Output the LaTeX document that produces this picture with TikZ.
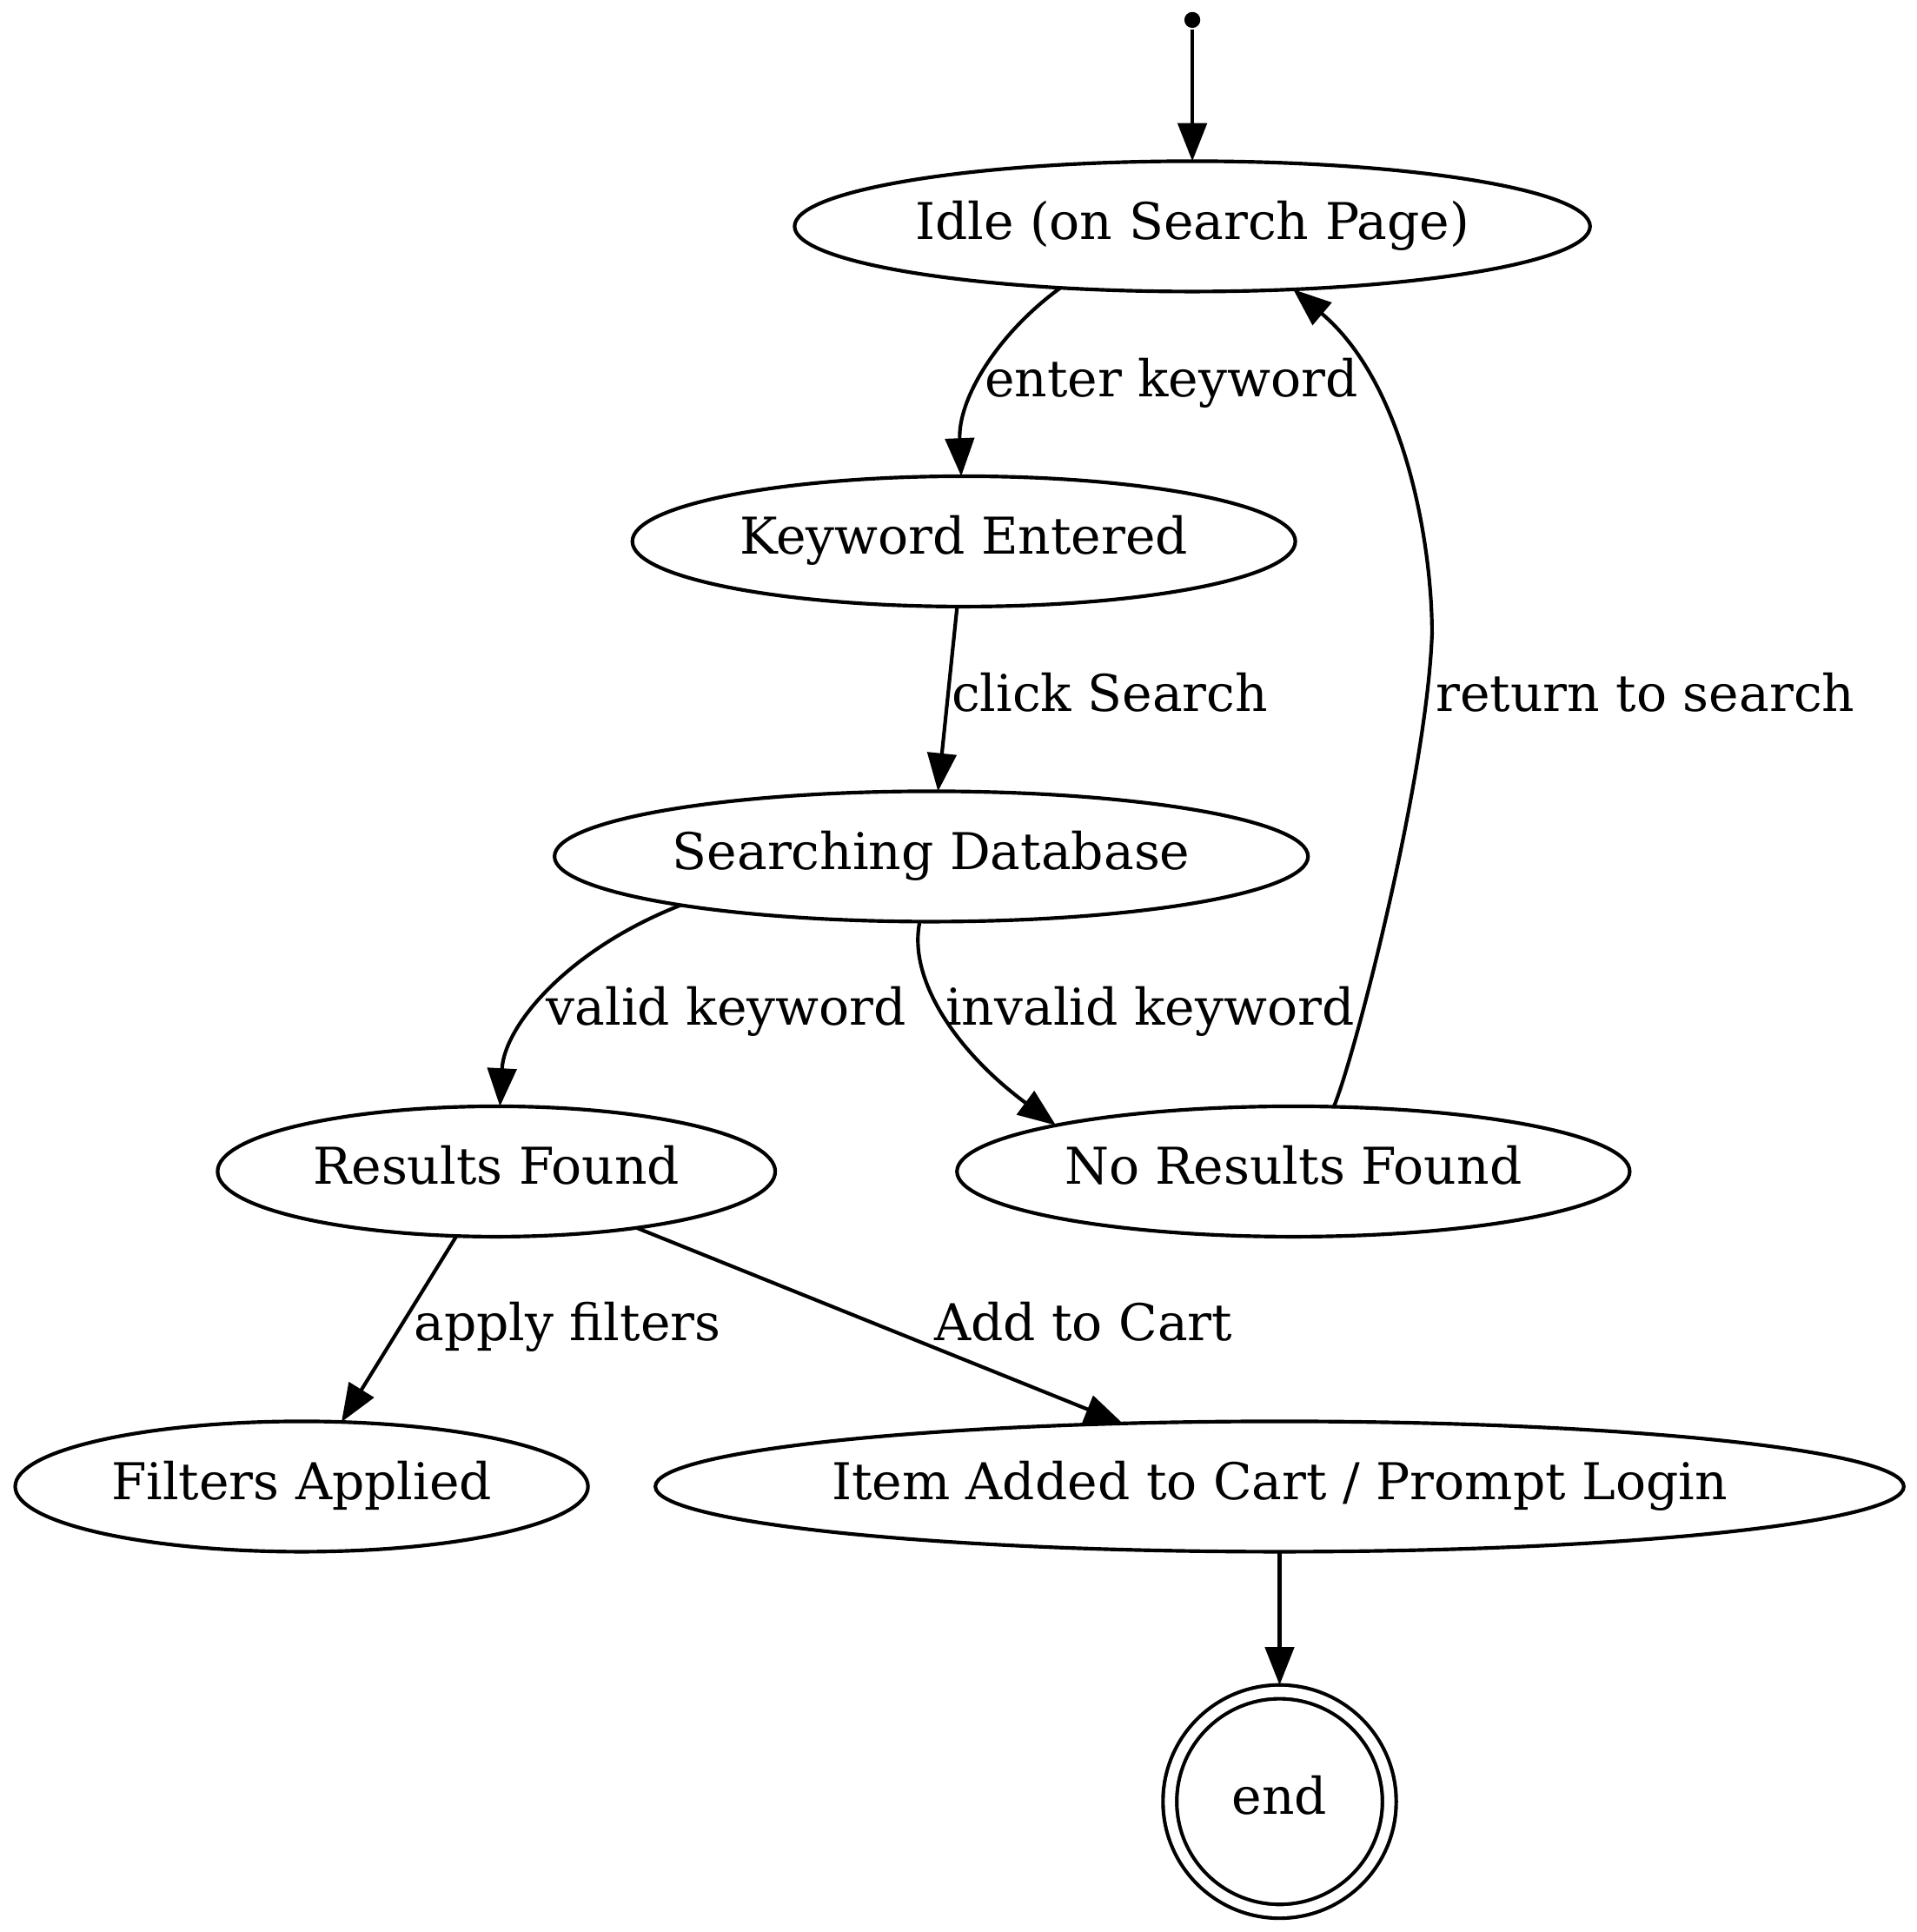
\documentclass[tikz,border=0pt]{standalone}
\usepackage{fontspec}
\setmainfont{DejaVu Serif}
\usetikzlibrary{shapes.geometric,arrows.meta}

\begin{document}
\begin{tikzpicture}[x=1pt,y=-1pt,line width=1pt,
  >={Triangle[length=10.5pt,width=8pt]},
  state/.style={draw,ellipse,inner sep=0pt,outer sep=0pt,minimum height=36pt,
    font=\fontsize{14}{17}\selectfont,text height=10.5pt,text depth=3.3pt},
  lbl/.style={inner sep=0pt,font=\fontsize{14}{17}\selectfont,text height=10.5pt,text depth=3.3pt}]
  \useasboundingbox (0,0) rectangle (529.44,533.52);
  % states
  \node [circle,fill,inner sep=0pt,minimum size=4.4pt] (init) at (329.3,5.5) {};
  \node [state,minimum width=219.7pt] (idle) at (329.3,62.5) {Idle (on Search Page)};
  \node [state,minimum width=183.1pt] (kw) at (266.2,149.5) {Keyword Entered};
  \node [state,minimum width=208.1pt] (search) at (257.2,236.5) {Searching Database};
  \node [state,minimum width=154pt] (found) at (137.1,323.5) {Results Found};
  \node [state,minimum width=185.8pt] (nores) at (357.2,323.5) {No Results Found};
  \node [state,minimum width=158.2pt] (filters) at (83.3,410.5) {Filters Applied};
  \node [state,minimum width=344.8pt,inner xsep=-3pt] (item) at (353.4,410.5) {Item Added to Cart / Prompt Login};
  \node [circle,draw,double,double distance=2.8pt,minimum size=60.6pt,inner sep=0pt,outer sep=1.9pt,
    font=\fontsize{14}{17}\selectfont,text height=10.5pt,text depth=3.3pt] (end) at (353.4,497.5) {end};
  % transitions
  \draw [->] (init) -- (idle);
  \draw [->] (idle.205) .. controls (275.6,92) and (264.6,110) .. (kw);
  \draw [->] (kw) -- (search);
  \draw [->] (search.191) .. controls (157.2,262) and (139.3,283) .. (found);
  \draw [->] (search.260) .. controls (250.7,270) and (263.6,290) .. (nores.169);
  \draw [->] (nores.58) .. controls (374.1,292) and (394,215) .. (395.5,175)
    .. controls (395.5,150) and (388,106) .. (idle.328);
  \draw [->] (found) -- (filters);
  \draw [->] (found) -- (item);
  \draw [->] (item) -- (end);
  % labels
  \node [lbl] (l-enter) at (323.5,106) {enter keyword};
  \node [lbl] (l-click) at (306.5,192.9) {click Search};
  \node [lbl] (l-return) at (454.4,192.9) {return to search};
  \node [lbl] (l-valid) at (200.6,279.5) {valid keyword};
  \node [lbl] (l-invalid) at (317.6,279.5) {invalid keyword};
  \node [lbl] (l-filters) at (156.7,366.5) {apply filters};
  \node [lbl] (l-cart) at (299.2,366.5) {Add to Cart};
\end{tikzpicture}
\end{document}
